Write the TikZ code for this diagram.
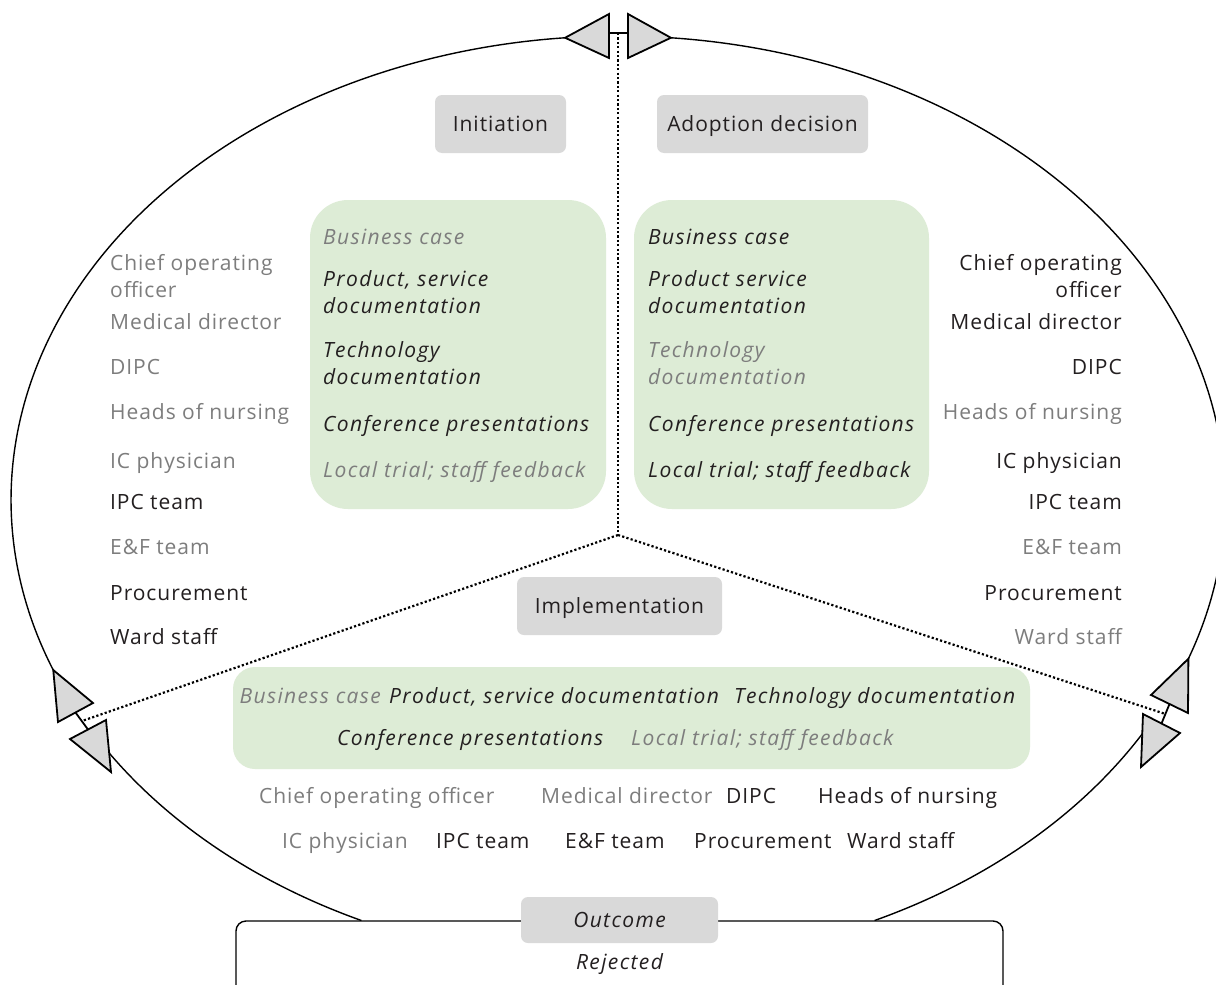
\documentclass[tikz,border=0pt]{standalone}
\usepackage{fontspec}
\setmainfont{Open Sans}[LetterSpace=4.5, ItalicFeatures={LetterSpace=6.5}]
\usetikzlibrary{calc}
\definecolor{ink}{RGB}{35,31,32}
\definecolor{mute}{RGB}{125,125,125}
\definecolor{boxgray}{RGB}{217,217,217}
\definecolor{leaf}{RGB}{221,236,214}
\tikzset{
  txt/.style={inner sep=0pt, text height=15pt, text depth=0pt, font=\fontsize{21}{25}\selectfont},
  dark/.style={txt, text=ink},
  pale/.style={txt, text=mute},
  idark/.style={dark, font=\fontsize{21}{25}\selectfont\itshape},
  ipale/.style={pale, font=\fontsize{21}{25}\selectfont\itshape},
  phase/.style={fill=boxgray, rounded corners=7pt, inner sep=0pt, text=ink,
    text height=15pt, text depth=0pt, font=\fontsize{21}{25}\selectfont},
  docbox/.style={fill=leaf, inner sep=0pt},
  loop/.style={draw=black, line width=1.4pt},
  oval/.style={x radius=607, y radius=464},
  divider/.style={draw=black, line width=2.2pt, dash pattern=on 2.2pt off 2.2pt},
  tri/.style={fill=boxgray, draw=black, line width=1.8pt, line join=miter},
  link/.style={draw=black, line width=1.8pt}
}
\begin{document}
\begin{tikzpicture}[x=1pt,y=-1pt]
\clip (0,0) rectangle (1216,985);
\fill[white] (0,0) rectangle (1216,985);

% the cycle follows one ellipse, broken at the three junctions
\coordinate (mid) at (618,500);
\coordinate (hub) at (618,535);
\coordinate (tlApex) at ($(mid)+(265:607 and 464)$);
\coordinate (trApex) at ($(mid)+(275:607 and 464)$);
\coordinate (luApex) at ($(mid)+(158.5:607 and 464)$);
\coordinate (ruApex) at ($(mid)+(20:607 and 464)$);
\coordinate (llEntry) at ($(mid)+(148:607 and 464)$);
\coordinate (rlEntry) at ($(mid)+(30:607 and 464)$);
\coordinate (outR) at ($(mid)+(65:607 and 464)$);

\draw[loop] (tlApex) arc[oval, start angle=265, end angle=158.5];
\draw[loop] (trApex) arc[oval, start angle=-85, end angle=20];
\draw[loop] (llEntry) arc[oval, start angle=148, end angle=115];
\draw[loop] (outR) arc[oval, start angle=65, end angle=30];

% junction links
\coordinate (tJoin) at (618,33);
\coordinate (lJoin) at (82,721);
\coordinate (rJoin) at (1165.5,714);
\draw[link] (609,33) -- (628,33);
\draw[link] (75.5,712.5) -- (88,729.5);
\draw[link] (1169.5,704) -- (1161.5,723.5);

% sector dividers
\draw[divider] (tJoin) -- (hub);
\draw[divider] (hub) -- (lJoin);
\draw[divider] (hub) -- (rJoin);

% arrow heads at the junctions
\filldraw[tri] (tlApex) -- (609,14) -- (609,58) -- cycle;
\filldraw[tri] (trApex) -- (628,14) -- (628,58) -- cycle;
\filldraw[tri] (luApex) -- (93,703) -- (58,722) -- cycle;
\filldraw[tri] (111,772) -- (70,739) -- (106,720) -- cycle;
\filldraw[tri] (ruApex) -- (1151,695) -- (1188,713) -- cycle;
\filldraw[tri] (1141,767) -- (1143,714) -- (1180,733) -- cycle;

% phase labels
\node[phase, minimum width=131pt, minimum height=58pt] (initiation) at (500.5,124) {Initiation};
\node[phase, minimum width=211pt, minimum height=58pt] (adoption) at (762.5,124) {Adoption decision};
\node[phase, minimum width=205pt, minimum height=58pt] (implementation) at (619.5,606) {Implementation};

% document panels
\node[docbox, rounded corners=38pt, minimum width=296pt, minimum height=309pt] (docL) at (458,354.5) {};
\node[docbox, rounded corners=38pt, minimum width=295pt, minimum height=309pt] (docR) at (781.5,354.5) {};
\node[docbox, rounded corners=22pt, minimum width=797pt, minimum height=102pt] (docB) at (631.5,718) {};

% initiation documents
\node[ipale, anchor=west] (iBus) at (323,237) {Business case};
\node[idark, anchor=west] (iProd1) at (323,279) {Product, service};
\node[idark, anchor=west] (iProd2) at (323,306) {documentation};
\node[idark, anchor=west] (iTech1) at (323,350) {Technology};
\node[idark, anchor=west] (iTech2) at (323,377) {documentation};
\node[idark, anchor=west] (iConf) at (323,424) {Conference presentations};
\node[ipale, anchor=west] (iTrial) at (323,470) {Local trial; staff feedback};

% adoption documents
\node[idark, anchor=west] (aBus) at (648,237) {Business case};
\node[idark, anchor=west] (aProd1) at (648,279) {Product service};
\node[idark, anchor=west] (aProd2) at (648,306) {documentation};
\node[ipale, anchor=west] (aTech1) at (648,350) {Technology};
\node[ipale, anchor=west] (aTech2) at (648,377) {documentation};
\node[idark, anchor=west] (aConf) at (648,424) {Conference presentations};
\node[idark, anchor=west] (aTrial) at (648,470) {Local trial; staff feedback};

% implementation documents
\node[ipale, anchor=east] (mBus) at (381,696) {Business case};
\node[idark, anchor=west] (mProd) at (389,696) {Product, service documentation};
\node[idark, anchor=west] (mTech) at (734,696) {Technology documentation};
\node[idark, anchor=west] (mConf) at (337,738) {Conference presentations};
\node[ipale, anchor=west] (mTrial) at (631,738) {Local trial; staff feedback};

% initiation actors
\node[pale, anchor=west] (iCoo1) at (110,263) {Chief operating};
\node[pale, anchor=west] (iCoo2) at (110,290) {officer};
\node[pale, anchor=west] (iMed) at (110,322) {Medical director};
\node[pale, anchor=west] (iDipc) at (110,367) {DIPC};
\node[pale, anchor=west] (iHead) at (110,412) {Heads of nursing};
\node[pale, anchor=west] (iIcp) at (110,461) {IC physician};
\node[dark, anchor=west] (iIpc) at (110,502) {IPC team};
\node[pale, anchor=west] (iEf) at (110,547) {E\&F team};
\node[dark, anchor=west] (iProc) at (110,593) {Procurement};
\node[dark, anchor=west] (iWard) at (110,637) {Ward staff};

% adoption actors
\node[dark, anchor=east] (aCoo1) at (1122,263) {Chief operating};
\node[dark, anchor=east] (aCoo2) at (1122,290) {officer};
\node[dark, anchor=east] (aMed) at (1122,322) {Medical director};
\node[dark, anchor=east] (aDipc) at (1122,367) {DIPC};
\node[pale, anchor=east] (aHead) at (1122,412) {Heads of nursing};
\node[dark, anchor=east] (aIcp) at (1122,461) {IC physician};
\node[dark, anchor=east] (aIpc) at (1122,502) {IPC team};
\node[pale, anchor=east] (aEf) at (1122,547) {E\&F team};
\node[dark, anchor=east] (aProc) at (1122,593) {Procurement};
\node[pale, anchor=east] (aWard) at (1122,637) {Ward staff};

% implementation actors
\node[pale, anchor=west] (mCoo) at (259,796) {Chief operating officer};
\node[pale, anchor=west] (mMed) at (541,796) {Medical director};
\node[dark, anchor=west] (mDipc) at (726,796) {DIPC};
\node[dark, anchor=west] (mHead) at (818,796) {Heads of nursing};
\node[pale, anchor=west] (mIcp) at (282,841) {IC physician};
\node[dark, anchor=west] (mIpc) at (436,841) {IPC team};
\node[dark, anchor=west] (mEf) at (565,841) {E\&F team};
\node[dark, anchor=west] (mProc) at (694,841) {Procurement};
\node[dark, anchor=west] (mWard) at (847,841) {Ward staff};

% outcome
\node[draw=black, fill=white, line width=1.4pt, rounded corners=10pt, minimum width=767pt, minimum height=90pt, inner sep=0pt] (outcomeBox) at (619.5,966) {};
\node[phase, font=\fontsize{21}{25}\selectfont\itshape, minimum width=197pt, minimum height=46pt] (outcome) at (619.5,920) {Outcome};
\node[idark, anchor=center] (rejected) at (619.5,962) {Rejected};
\end{tikzpicture}
\end{document}
